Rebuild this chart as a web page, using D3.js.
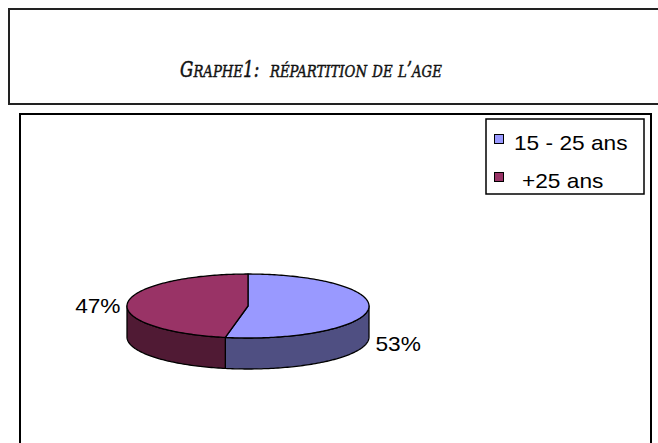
<!DOCTYPE html>
<html>
<head>
<meta charset="utf-8">
<script src="https://cdn.jsdelivr.net/npm/d3@7"></script>
<style>
  body { margin: 0; background: #fff; }
  svg { display: block; }
</style>
</head>
<body>
<div id="chart"></div>
<script>
// Data
var categories = ["15 - 25 ans", "+25 ans"];
var values = [53, 47];
var topColors = ["#9999ff", "#993366"];
var sideColors = ["#4f4f82", "#501a34"];
var title = "Graphe1:  répartition de l\u2019age";

var width = 658, height = 443;
var labelFont = "'Liberation Sans', Arial, sans-serif";

var svg = d3.select("#chart").append("svg")
    .attr("width", width)
    .attr("height", height);

// title box
svg.append("rect")
    .attr("x", 9).attr("y", 9)
    .attr("width", 680).attr("height", 95)
    .attr("fill", "none")
    .attr("stroke", "#222")
    .attr("stroke-width", 2);

// title in small caps: runs of capitals big, runs of lower case small
var titleText = svg.append("text")
    .attr("x", 0)
    .attr("y", 0)
    .attr("font-family", "'DejaVu Serif Condensed', 'DejaVu Serif', serif")
    .attr("font-style", "italic")
    .attr("fill", "#111")
    .attr("stroke", "#111")
    .attr("stroke-width", 0.45)
    .style("white-space", "pre");

var runs = [];
title.split("").forEach(function(ch) {
    var small = ch !== ch.toUpperCase();
    var last = runs[runs.length - 1];
    if (last && last.small === small) last.text += ch;
    else runs.push({small: small, text: ch});
});
runs.forEach(function(r) {
    titleText.append("tspan")
        .attr("font-size", r.small ? 17 : 21.5)
        .text(r.text.toUpperCase());
});
var tw = titleText.node().getComputedTextLength();
titleText.attr("transform", "translate(180,77) scale(" + (262 / tw) + ",1)");

// chart box
svg.append("rect")
    .attr("x", 20).attr("y", 114)
    .attr("width", 631).attr("height", 360)
    .attr("fill", "none")
    .attr("stroke", "#000")
    .attr("stroke-width", 2);

// 3D pie
var cx = 248, cy = 306, rx = 121, ry = 32, depth = 31;

var pie = d3.pie().sort(null).value(function(d) { return d; });
var arcs = pie(values);

function pt(a, dy) {
    return [cx + rx * Math.sin(a), cy - ry * Math.cos(a) + (dy || 0)];
}

function arcPoints(a0, a1, dy) {
    var n = Math.max(2, Math.ceil((a1 - a0) / 0.02));
    return d3.range(n + 1).map(function(i) {
        return pt(a0 + (a1 - a0) * i / n, dy);
    });
}

var pieG = svg.append("g");

// side walls (front half only)
arcs.forEach(function(d, i) {
    var a0 = Math.max(d.startAngle, Math.PI / 2),
        a1 = Math.min(d.endAngle, Math.PI * 1.5);
    if (a1 <= a0) return;
    var top = arcPoints(a0, a1, 0);
    var bottom = arcPoints(a0, a1, depth).reverse();
    pieG.append("path")
        .attr("d", "M" + top.concat(bottom).join("L") + "Z")
        .attr("fill", sideColors[i])
        .attr("stroke", "#000")
        .attr("stroke-width", 1.3)
        .attr("stroke-linejoin", "round");
});

// top faces
arcs.forEach(function(d, i) {
    var pts = arcPoints(d.startAngle, d.endAngle, 0);
    pieG.append("path")
        .attr("d", "M" + [cx, cy] + "L" + pts.join("L") + "Z")
        .attr("fill", topColors[i])
        .attr("stroke", "#000")
        .attr("stroke-width", 1.3)
        .attr("stroke-linejoin", "round");
});

// text slightly wider than the font draws it
function stretch(sel) {
    sel.each(function() {
        var w = this.getComputedTextLength();
        d3.select(this)
            .attr("textLength", w * 1.08)
            .attr("lengthAdjust", "spacingAndGlyphs");
    });
}

// percentage labels
arcs.forEach(function(d, i) {
    var mid = (d.startAngle + d.endAngle) / 2;
    var p = pt(mid, 0);
    var right = Math.sin(mid) > 0;
    svg.append("text")
        .attr("x", right ? p[0] + 7 : p[0] - 7)
        .attr("y", right ? p[1] + 42 : p[1] + 10)
        .attr("text-anchor", right ? "start" : "end")
        .style("font-family", labelFont)
        .style("font-size", "21px")
        .text(d.data + "%")
        .call(stretch);
});

// legend
var legend = svg.append("g");
legend.append("rect")
    .attr("x", 486).attr("y", 119)
    .attr("width", 158).attr("height", 75)
    .attr("fill", "#fff")
    .attr("stroke", "#000")
    .attr("stroke-width", 1.5);

var legendY = d3.scalePoint().domain(categories).range([138, 176]);

categories.forEach(function(c, i) {
    legend.append("rect")
        .attr("x", 494.5).attr("y", legendY(c) - 3.5)
        .attr("width", 9).attr("height", 9)
        .attr("fill", topColors[i])
        .attr("stroke", "#000")
        .attr("stroke-width", 1);
    legend.append("text")
        .attr("x", i === 0 ? 514 : 522)
        .attr("y", legendY(c) + 12)
        .style("font-family", labelFont)
        .style("font-size", "21px")
        .text(c)
        .call(stretch);
});
</script>
</body>
</html>
